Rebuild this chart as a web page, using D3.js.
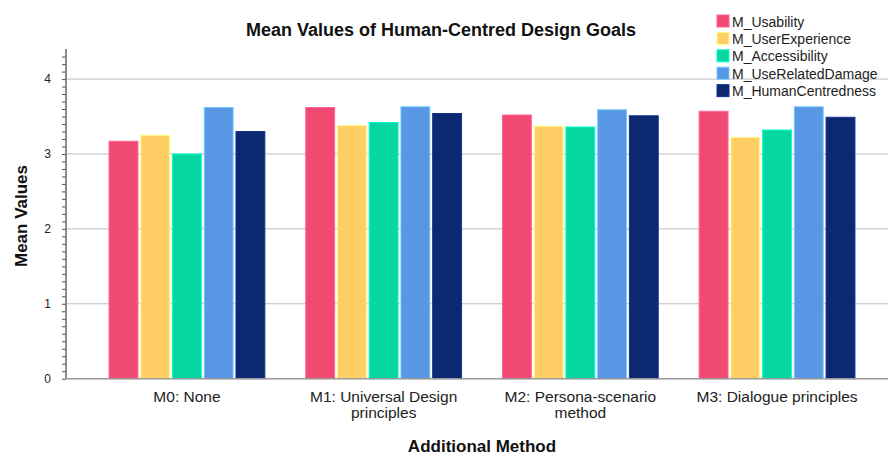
<!DOCTYPE html>
<html>
<head>
<meta charset="utf-8">
<script src="https://cdn.jsdelivr.net/npm/d3@7"></script>
<style>
body { margin: 0; background: #fff; }
text { font-family: "Liberation Sans", Arial, sans-serif; }
</style>
</head>
<body>
<div class="chart"></div>
<script>
var width = 888;
var height = 456;

// data
var categories = ["M0", "M1", "M2", "M3"];
var tickLabels = [["M0: None"], ["M1: Universal Design", "principles"], ["M2: Persona-scenario", "method"], ["M3: Dialogue principles"]];
var seriesNames = ["M_Usability", "M_UserExperience", "M_Accessibility", "M_UseRelatedDamage", "M_HumanCentredness"];
var seriesColors = ["#f04a73", "#ffcf66", "#06d6a0", "#5897e4", "#0b2870"];
var usability = [3.17, 3.62, 3.52, 3.57];
var userExperience = [3.25, 3.38, 3.37, 3.22];
var accessibility = [3.00, 3.42, 3.36, 3.32];
var useRelatedDamage = [3.62, 3.63, 3.59, 3.63];
var humanCentredness = [3.30, 3.54, 3.51, 3.49];
var seriesValues = [usability, userExperience, accessibility, useRelatedDamage, humanCentredness];
var yTicks = [0, 1, 2, 3, 4];

var svg = d3.select(".chart").append("svg")
  .attr("width", width)
  .attr("height", height)
  .style("display", "block");

var plotLeft = 66, plotRight = 888;

var y = d3.scaleLinear()
  .domain([0, 4.4])
  .range([378.7, 49.1]);

var x0 = d3.scaleBand()
  .domain(categories)
  .range([88.6, 875.4]);

var step = x0.step();
var x1 = d3.scaleBand()
  .domain(seriesNames)
  .range([0.104 * step, 0.896 * step])
  .paddingInner(0.09);

// gridlines
svg.append("g")
  .selectAll("line")
  .data(yTicks.slice(1))
  .enter().append("line")
  .attr("x1", plotLeft)
  .attr("x2", plotRight)
  .attr("y1", function(d) { return y(d); })
  .attr("y2", function(d) { return y(d); })
  .attr("stroke", "#bdbdbd")
  .attr("stroke-width", 1);

// bars
var groups = svg.append("g")
  .selectAll("g")
  .data(categories)
  .enter().append("g")
  .attr("transform", function(d) { return "translate(" + x0(d) + ",0)"; });

groups.selectAll("rect")
  .data(function(d, i) {
    return seriesNames.map(function(s, j) { return { key: s, value: seriesValues[j][i], color: seriesColors[j] }; });
  })
  .enter().append("rect")
  .attr("x", function(d) { return x1(d.key); })
  .attr("width", x1.bandwidth())
  .attr("y", function(d) { return y(d.value); })
  .attr("height", function(d) { return y(0) - y(d.value); })
  .attr("fill", function(d) { return d.color; })
  .attr("stroke", function(d) { return d3.color(d.color).brighter(0.8); })
  .attr("stroke-width", 1);

// y axis: minor ticks
var yAxisG = svg.append("g")
  .attr("transform", "translate(" + plotLeft + ",0)")
  .call(d3.axisLeft(y)
    .tickValues(d3.range(0, 44).map(function(i) { return i / 10; }))
    .tickSize(4)
    .tickFormat(""));
yAxisG.select(".domain").remove();
yAxisG.selectAll("line").attr("stroke", "#555");

var yLabels = svg.append("g")
  .attr("transform", "translate(" + plotLeft + ",0)")
  .call(d3.axisLeft(y).tickValues(yTicks).tickSize(0).tickPadding(15).tickFormat(d3.format("d")));
yLabels.select(".domain").remove();
yLabels.selectAll("text")
  .attr("font-size", "12px")
  .attr("fill", "#222")
  .style("font-family", "Liberation Sans, Arial, sans-serif");

svg.append("line")
  .attr("x1", plotLeft).attr("x2", plotLeft)
  .attr("y1", y(4.4)).attr("y2", y(0))
  .attr("stroke", "#666").attr("stroke-width", 1.5);

svg.append("line")
  .attr("x1", plotLeft).attr("x2", plotRight)
  .attr("y1", y(0)).attr("y2", y(0))
  .attr("stroke", "#999").attr("stroke-width", 1.5);

// x tick labels
var xLabels = svg.append("g")
  .selectAll("text")
  .data(categories)
  .enter().append("text")
  .attr("x", function(d) { return x0(d) + step / 2; })
  .attr("y", 402)
  .attr("text-anchor", "middle")
  .attr("font-size", "15.5px")
  .attr("fill", "#222");

xLabels.selectAll("tspan")
  .data(function(d, i) { return tickLabels[i]; })
  .enter().append("tspan")
  .attr("x", function() { return d3.select(this.parentNode).attr("x"); })
  .attr("dy", function(d, i) { return i ? 16 : 0; })
  .text(function(d) { return d; });

// titles
svg.append("text")
  .attr("x", 441)
  .attr("y", 36)
  .attr("text-anchor", "middle")
  .attr("font-size", "18px")
  .attr("font-weight", "bold")
  .attr("fill", "#111")
  .text("Mean Values of Human-Centred Design Goals");

svg.append("text")
  .attr("x", 482)
  .attr("y", 452)
  .attr("text-anchor", "middle")
  .attr("font-size", "17px")
  .attr("font-weight", "bold")
  .attr("fill", "#111")
  .text("Additional Method");

svg.append("text")
  .attr("transform", "translate(27,216) rotate(-90)")
  .attr("text-anchor", "middle")
  .attr("font-size", "17px")
  .attr("font-weight", "bold")
  .attr("fill", "#111")
  .text("Mean Values");

// legend
var legend = svg.append("g")
  .attr("transform", "translate(717,15)");

var items = legend.selectAll("g")
  .data(seriesNames)
  .enter().append("g")
  .attr("transform", function(d, i) { return "translate(0," + (i * 17.4) + ")"; });

items.append("rect")
  .attr("width", 12)
  .attr("height", 12)
  .attr("fill", function(d, i) { return seriesColors[i]; })
  .attr("stroke", function(d, i) { return d3.color(seriesColors[i]).brighter(0.8); });

items.append("text")
  .attr("x", 15)
  .attr("y", 11.5)
  .attr("font-size", "14px")
  .attr("fill", "#222")
  .text(function(d) { return d; });
</script>
</body>
</html>
